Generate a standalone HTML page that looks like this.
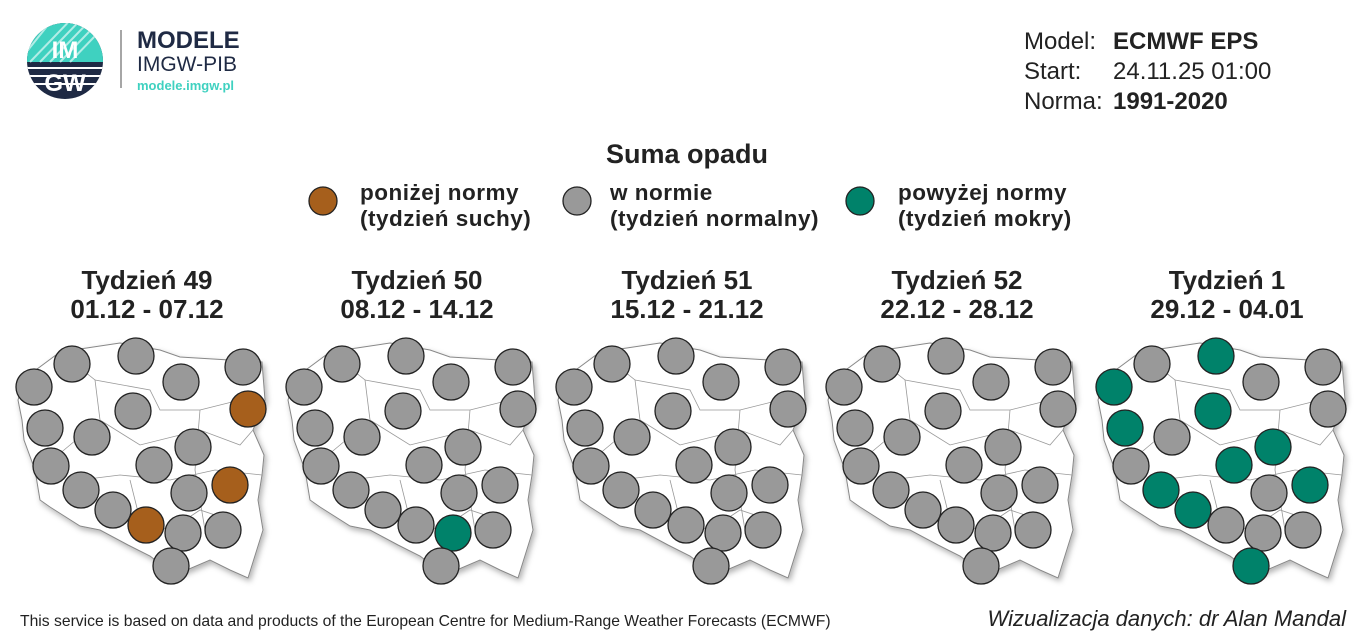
<!DOCTYPE html><html><head><meta charset="utf-8"><style>
body{margin:0;width:1366px;height:634px;background:#fff;overflow:hidden;font-family:"Liberation Sans",sans-serif}
circle.c{stroke:#222;stroke-width:1.3;fill:#999}
circle.b{fill:#a65f1c}circle.g{fill:#00826a}
</style></head><body>
<svg width="1366" height="634" xmlns="http://www.w3.org/2000/svg" font-family="Liberation Sans, sans-serif">
<defs>
<clipPath id="lc"><circle cx="65" cy="61" r="38"/></clipPath>
<filter id="sh"><feDropShadow dx="2" dy="3" stdDeviation="3" flood-opacity="0.3"/></filter>
<g id="pl">
<polygon filter="url(#sh)" fill="#fff" stroke="#888" stroke-width="1" points="25,378 60,352 120,343 160,350 180,357 262,362 265,400 253,430 264,455 262,475 258,500 263,530 248,578 230,570 210,560 175,575 150,556 128,545 100,530 80,526 50,507 40,500 35,470 24,440 22,420 18,400"/>
<polyline fill="none" stroke="#999" stroke-width="0.8" points="60,352 95,380 100,420 70,445 40,470"/>
<polyline fill="none" stroke="#999" stroke-width="0.8" points="95,380 150,390 160,410 200,410 240,400 262,400"/>
<polyline fill="none" stroke="#999" stroke-width="0.8" points="100,420 140,445 200,430 240,445 253,430"/>
<polyline fill="none" stroke="#999" stroke-width="0.8" points="80,480 120,475 170,480 215,470 262,475"/>
<polyline fill="none" stroke="#999" stroke-width="0.8" points="130,480 140,520 170,530 200,510 230,520"/>
<polyline fill="none" stroke="#999" stroke-width="0.8" points="200,410 195,470 205,530"/>
</g>
</defs>
<circle cx="65" cy="61" r="38" fill="#1f2a44"/>
<g clip-path="url(#lc)"><rect x="20" y="20" width="100" height="42" fill="#3fd1c0"/>
<g stroke="#fff" stroke-width="2" opacity="0.6"><line x1="30" y1="62" x2="80" y2="10"/><line x1="40" y1="62" x2="90" y2="10"/><line x1="50" y1="62" x2="100" y2="10"/><line x1="60" y1="62" x2="110" y2="10"/><line x1="20" y1="60" x2="60" y2="10"/><line x1="70" y1="62" x2="120" y2="10"/></g>
<g stroke="#fff" stroke-width="2"><line x1="20" y1="68" x2="110" y2="68"/><line x1="20" y1="76" x2="110" y2="76"/><line x1="20" y1="84" x2="110" y2="84"/></g></g>
<text x="65" y="58" text-anchor="middle" font-size="24" font-weight="bold" fill="#fff">IM</text>
<text x="65" y="91" text-anchor="middle" font-size="24" font-weight="bold" fill="#fff">GW</text>
<line x1="121" y1="30" x2="121" y2="88" stroke="#888" stroke-width="1.5"/>
<text x="137" y="48" font-size="24" font-weight="bold" fill="#1f2a44">MODELE</text>
<text x="137" y="71" font-size="21" fill="#1f2a44">IMGW-PIB</text>
<text x="137" y="90" font-size="13" font-weight="bold" fill="#3fd1c0">modele.imgw.pl</text>
<g font-size="24" fill="#222"><text x="1024" y="49">Model:</text><text x="1113" y="49" font-weight="bold">ECMWF EPS</text>
<text x="1024" y="79">Start:</text><text x="1113" y="79">24.11.25 01:00</text>
<text x="1024" y="109">Norma:</text><text x="1113" y="109" font-weight="bold">1991-2020</text></g>
<text x="687" y="163" text-anchor="middle" font-size="27" font-weight="bold" fill="#222">Suma opadu</text>
<g stroke-width="1.3" stroke="#222">
<circle cx="323" cy="201" r="14" fill="#a65f1c"/><circle cx="577" cy="201" r="14" fill="#999"/><circle cx="860" cy="201" r="14" fill="#00826a"/></g>
<g font-size="22.5" font-weight="bold" fill="#222" letter-spacing="0.5">
<text x="360" y="200">poniżej normy</text><text x="360" y="226">(tydzień suchy)</text>
<text x="610" y="200">w normie</text><text x="610" y="226">(tydzień normalny)</text>
<text x="898" y="200">powyżej normy</text><text x="898" y="226">(tydzień mokry)</text></g>
<g font-size="26" font-weight="bold" fill="#222" text-anchor="middle">
<text x="147" y="289">Tydzień 49</text><text x="147" y="318">01.12 - 07.12</text>
<text x="417" y="289">Tydzień 50</text><text x="417" y="318">08.12 - 14.12</text>
<text x="687" y="289">Tydzień 51</text><text x="687" y="318">15.12 - 21.12</text>
<text x="957" y="289">Tydzień 52</text><text x="957" y="318">22.12 - 28.12</text>
<text x="1227" y="289">Tydzień 1</text><text x="1227" y="318">29.12 - 04.01</text></g>
<use href="#pl"/><use href="#pl" x="270"/><use href="#pl" x="540"/><use href="#pl" x="810"/><use href="#pl" x="1080"/>
<g>
<g>
<circle class="c" cx="34" cy="387" r="18"/><circle class="c" cx="72" cy="364" r="18"/><circle class="c" cx="136" cy="356" r="18"/><circle class="c" cx="181" cy="382" r="18"/><circle class="c" cx="243" cy="367" r="18"/><circle class="c" cx="133" cy="411" r="18"/><circle class="c b" cx="248" cy="409" r="18"/><circle class="c" cx="45" cy="428" r="18"/><circle class="c" cx="92" cy="437" r="18"/><circle class="c" cx="193" cy="447" r="18"/><circle class="c" cx="51" cy="466" r="18"/><circle class="c" cx="154" cy="465" r="18"/><circle class="c b" cx="230" cy="485" r="18"/><circle class="c" cx="81" cy="490" r="18"/><circle class="c" cx="189" cy="493" r="18"/><circle class="c" cx="113" cy="510" r="18"/><circle class="c b" cx="146" cy="525" r="18"/><circle class="c" cx="183" cy="533" r="18"/><circle class="c" cx="223" cy="530" r="18"/><circle class="c" cx="171" cy="566" r="18"/>
</g>
<g transform="translate(270,0)">
<circle class="c" cx="34" cy="387" r="18"/><circle class="c" cx="72" cy="364" r="18"/><circle class="c" cx="136" cy="356" r="18"/><circle class="c" cx="181" cy="382" r="18"/><circle class="c" cx="243" cy="367" r="18"/><circle class="c" cx="133" cy="411" r="18"/><circle class="c" cx="248" cy="409" r="18"/><circle class="c" cx="45" cy="428" r="18"/><circle class="c" cx="92" cy="437" r="18"/><circle class="c" cx="193" cy="447" r="18"/><circle class="c" cx="51" cy="466" r="18"/><circle class="c" cx="154" cy="465" r="18"/><circle class="c" cx="230" cy="485" r="18"/><circle class="c" cx="81" cy="490" r="18"/><circle class="c" cx="189" cy="493" r="18"/><circle class="c" cx="113" cy="510" r="18"/><circle class="c" cx="146" cy="525" r="18"/><circle class="c g" cx="183" cy="533" r="18"/><circle class="c" cx="223" cy="530" r="18"/><circle class="c" cx="171" cy="566" r="18"/>
</g>
<g transform="translate(540,0)">
<circle class="c" cx="34" cy="387" r="18"/><circle class="c" cx="72" cy="364" r="18"/><circle class="c" cx="136" cy="356" r="18"/><circle class="c" cx="181" cy="382" r="18"/><circle class="c" cx="243" cy="367" r="18"/><circle class="c" cx="133" cy="411" r="18"/><circle class="c" cx="248" cy="409" r="18"/><circle class="c" cx="45" cy="428" r="18"/><circle class="c" cx="92" cy="437" r="18"/><circle class="c" cx="193" cy="447" r="18"/><circle class="c" cx="51" cy="466" r="18"/><circle class="c" cx="154" cy="465" r="18"/><circle class="c" cx="230" cy="485" r="18"/><circle class="c" cx="81" cy="490" r="18"/><circle class="c" cx="189" cy="493" r="18"/><circle class="c" cx="113" cy="510" r="18"/><circle class="c" cx="146" cy="525" r="18"/><circle class="c" cx="183" cy="533" r="18"/><circle class="c" cx="223" cy="530" r="18"/><circle class="c" cx="171" cy="566" r="18"/>
</g>
<g transform="translate(810,0)">
<circle class="c" cx="34" cy="387" r="18"/><circle class="c" cx="72" cy="364" r="18"/><circle class="c" cx="136" cy="356" r="18"/><circle class="c" cx="181" cy="382" r="18"/><circle class="c" cx="243" cy="367" r="18"/><circle class="c" cx="133" cy="411" r="18"/><circle class="c" cx="248" cy="409" r="18"/><circle class="c" cx="45" cy="428" r="18"/><circle class="c" cx="92" cy="437" r="18"/><circle class="c" cx="193" cy="447" r="18"/><circle class="c" cx="51" cy="466" r="18"/><circle class="c" cx="154" cy="465" r="18"/><circle class="c" cx="230" cy="485" r="18"/><circle class="c" cx="81" cy="490" r="18"/><circle class="c" cx="189" cy="493" r="18"/><circle class="c" cx="113" cy="510" r="18"/><circle class="c" cx="146" cy="525" r="18"/><circle class="c" cx="183" cy="533" r="18"/><circle class="c" cx="223" cy="530" r="18"/><circle class="c" cx="171" cy="566" r="18"/>
</g>
<g transform="translate(1080,0)">
<circle class="c g" cx="34" cy="387" r="18"/><circle class="c" cx="72" cy="364" r="18"/><circle class="c g" cx="136" cy="356" r="18"/><circle class="c" cx="181" cy="382" r="18"/><circle class="c" cx="243" cy="367" r="18"/><circle class="c g" cx="133" cy="411" r="18"/><circle class="c" cx="248" cy="409" r="18"/><circle class="c g" cx="45" cy="428" r="18"/><circle class="c" cx="92" cy="437" r="18"/><circle class="c g" cx="193" cy="447" r="18"/><circle class="c" cx="51" cy="466" r="18"/><circle class="c g" cx="154" cy="465" r="18"/><circle class="c g" cx="230" cy="485" r="18"/><circle class="c g" cx="81" cy="490" r="18"/><circle class="c" cx="189" cy="493" r="18"/><circle class="c g" cx="113" cy="510" r="18"/><circle class="c" cx="146" cy="525" r="18"/><circle class="c" cx="183" cy="533" r="18"/><circle class="c" cx="223" cy="530" r="18"/><circle class="c g" cx="171" cy="566" r="18"/>
</g>
</g>
<text x="20" y="626" font-size="15.7" fill="#222">This service is based on data and products of the European Centre for Medium-Range Weather Forecasts (ECMWF)</text>
<text x="1346" y="626" font-size="22" font-style="italic" fill="#222" text-anchor="end">Wizualizacja danych: dr Alan Mandal</text>
</svg></body></html>
